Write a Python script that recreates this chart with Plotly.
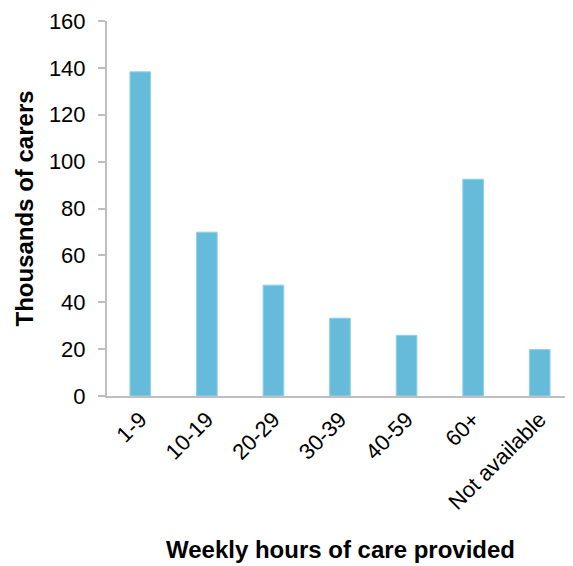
import plotly.graph_objects as go

categories = ["1-9", "10-19", "20-29", "30-39", "40-59", "60+", "Not available"]
carers_thousands = [138.3, 69.9, 47.3, 33.2, 25.9, 92.5, 19.8]
y_ticks = [0, 20, 40, 60, 80, 100, 120, 140, 160]

FONT = "Liberation Sans, Arial, sans-serif"
AXIS_GREY = "#bfbfbf"

fig = go.Figure(
    go.Bar(
        x=categories,
        y=carers_thousands,
        marker=dict(color="#66bbdb", line=dict(color="#8fd0ea", width=1)),
        hoverinfo="x+y",
    )
)

fig.update_layout(
    width=565,
    height=558,
    margin=dict(l=99, r=0, t=13, b=170),
    paper_bgcolor="white",
    plot_bgcolor="white",
    bargap=0.69,
    showlegend=False,
    font=dict(family=FONT, size=22, color="#000000"),
    annotations=[
        dict(
            text="<b>Weekly hours of care provided</b>",
            xref="paper", yref="paper",
            x=0.5, y=-0.408,
            xanchor="center", yanchor="middle",
            showarrow=False,
            font=dict(family=FONT, size=24, color="#000000"),
        ),
        dict(
            text="<b>Thousands of carers</b>",
            xref="paper", yref="paper",
            x=-0.176, y=0.5,
            xanchor="center", yanchor="middle",
            textangle=-90,
            showarrow=False,
            font=dict(family=FONT, size=24, color="#000000"),
        ),
    ],
)

fig.update_xaxes(
    type="category",
    range=[-0.5, 6.5],
    showline=True,
    linecolor=AXIS_GREY,
    linewidth=2,
    ticks="",
    tickangle=-45,
    showgrid=False,
    zeroline=False,
    tickfont=dict(family=FONT, size=22, color="#000000"),
)

fig.update_yaxes(
    range=[0, 160],
    tickvals=y_ticks,
    showline=True,
    linecolor=AXIS_GREY,
    linewidth=2,
    ticks="outside",
    ticklen=7,
    tickwidth=2,
    tickcolor=AXIS_GREY,
    ticklabelstandoff=8,
    showgrid=False,
    zeroline=False,
    tickfont=dict(family=FONT, size=22, color="#000000"),
)

fig.write_html("out.html")
